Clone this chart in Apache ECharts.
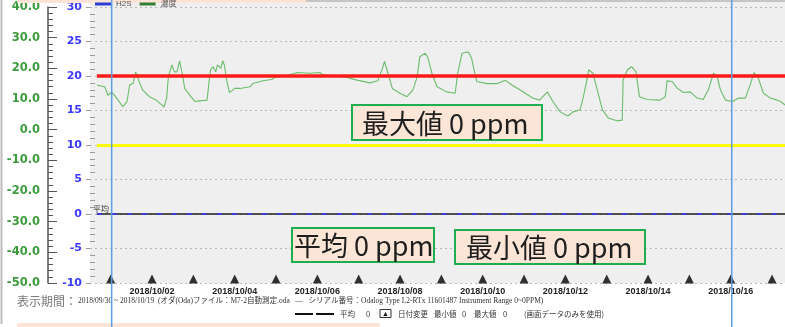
<!DOCTYPE html>
<html><head><meta charset="utf-8">
<script src="https://cdn.jsdelivr.net/npm/echarts@6/dist/echarts.min.js"></script>
<style>html,body{margin:0;padding:0;background:#fff}#c{width:785px;height:327px}</style>
</head><body><div id="c"></div>
<script>
// ---- data ----
const times = [
'2018-09-30 16:00','2018-09-30 20:30','2018-09-30 22:30',
'2018-10-01 00:30','2018-10-01 03:30','2018-10-01 07:00','2018-10-01 09:30','2018-10-01 11:00','2018-10-01 13:00','2018-10-01 14:30','2018-10-01 15:30','2018-10-01 17:00','2018-10-01 18:30','2018-10-01 22:30',
'2018-10-02 02:30','2018-10-02 07:00','2018-10-02 08:30','2018-10-02 09:30','2018-10-02 11:30','2018-10-02 13:00','2018-10-02 14:30','2018-10-02 16:00','2018-10-02 17:30','2018-10-02 19:00','2018-10-02 22:00',
'2018-10-03 01:00','2018-10-03 03:30','2018-10-03 08:00','2018-10-03 09:00','2018-10-03 10:00','2018-10-03 11:30','2018-10-03 13:00','2018-10-03 14:00','2018-10-03 16:00','2018-10-03 17:00','2018-10-03 18:00','2018-10-03 19:30','2018-10-03 21:00',
'2018-10-04 00:00','2018-10-04 03:00','2018-10-04 09:00','2018-10-04 10:30','2018-10-04 16:30','2018-10-04 21:30','2018-10-04 23:30',
'2018-10-05 06:30','2018-10-05 12:30','2018-10-05 19:30',
'2018-10-06 01:30','2018-10-06 03:00','2018-10-06 09:00','2018-10-06 17:00','2018-10-06 23:00',
'2018-10-07 06:30','2018-10-07 11:00','2018-10-07 13:30','2018-10-07 15:00','2018-10-07 17:00','2018-10-07 19:30',
'2018-10-08 00:00','2018-10-08 04:00','2018-10-08 07:30','2018-10-08 10:00','2018-10-08 11:30','2018-10-08 14:30','2018-10-08 16:00','2018-10-08 18:30','2018-10-08 21:30',
'2018-10-09 03:00','2018-10-09 08:00','2018-10-09 09:30','2018-10-09 12:00','2018-10-09 15:30','2018-10-09 17:30','2018-10-09 20:30',
'2018-10-10 02:30','2018-10-10 08:30','2018-10-10 13:00','2018-10-10 17:00','2018-10-10 21:30',
'2018-10-11 05:00','2018-10-11 09:00','2018-10-11 13:30','2018-10-11 17:00','2018-10-11 21:00',
'2018-10-12 01:30','2018-10-12 04:30','2018-10-12 08:30','2018-10-12 10:00','2018-10-12 12:30','2018-10-12 13:30','2018-10-12 16:00','2018-10-12 18:30','2018-10-12 21:30',
'2018-10-13 01:00','2018-10-13 03:30','2018-10-13 06:00','2018-10-13 09:00','2018-10-13 09:30','2018-10-13 12:00','2018-10-13 14:30','2018-10-13 17:00','2018-10-13 19:00','2018-10-13 23:30',
'2018-10-14 07:00','2018-10-14 10:00','2018-10-14 11:00','2018-10-14 14:00','2018-10-14 17:00','2018-10-14 20:30',
'2018-10-15 00:30','2018-10-15 04:30','2018-10-15 08:00','2018-10-15 11:00','2018-10-15 14:00','2018-10-15 16:00','2018-10-15 18:00','2018-10-15 21:00',
'2018-10-16 01:00','2018-10-16 04:30','2018-10-16 08:30','2018-10-16 11:30','2018-10-16 13:30','2018-10-16 16:00','2018-10-16 19:00','2018-10-16 23:00',
'2018-10-17 03:00','2018-10-17 05:00','2018-10-17 07:30'
];
const conc = [
18.7,18.45,17.2,
17.7,16.8,15.55,16.3,18.7,18.9,20.6,20.7,18.9,18.0,17.0,
16.5,15.5,16.8,19.9,21.6,20.6,20.6,22.2,20.4,18.2,17.2,
16.3,16.4,16.5,18.9,20.9,21.35,20.6,21.6,21.1,22.2,21.6,19.2,17.6,
18.2,18.2,18.45,18.9,19.3,19.5,19.8,
20.1,20.5,20.4,
20.5,20.2,20.0,19.8,19.4,
19.0,19.3,20.9,22.1,20.4,18.2,
17.5,17.0,18.0,19.9,22.8,23.3,22.8,20.4,18.45,
17.7,17.5,20.4,23.3,23.5,22.6,19.2,
18.9,18.9,19.4,18.7,18.0,
16.8,16.5,17.7,16.2,14.8,
14.2,14.8,15.1,16.5,19.4,20.9,20.4,18.0,15.1,
13.9,13.7,13.5,13.6,19.4,20.9,21.35,20.6,17.0,16.6,
16.5,17.0,19.3,19.2,18.2,17.6,
17.7,16.8,16.6,18.0,20.4,20.0,18.0,16.5,
16.3,16.8,16.8,18.9,20.5,19.7,17.5,16.8,
16.5,16.3,15.8
];
const h2sTimes = ['2018-09-30 16:00','2018-10-17 07:30'];
const h2sValues = [0, 0];
const markerDays = ['2018-10-01','2018-10-02','2018-10-03','2018-10-04','2018-10-05','2018-10-06','2018-10-07','2018-10-08','2018-10-09','2018-10-10','2018-10-11','2018-10-12','2018-10-13','2018-10-14','2018-10-15','2018-10-16','2018-10-17'];
const dateLabels = ['2018-10-02','2018-10-04','2018-10-06','2018-10-08','2018-10-10','2018-10-12','2018-10-14','2018-10-16'];
const cursorTimes = ['2018-10-01 00:00','2018-10-16 00:00'];
const xRange = ['2018-09-30 12:00','2018-10-17 07:30'];
const blueAxis = {min:-10, max:30, interval:5};
const greenAxis = {min:-50, max:40, interval:10};
const upperLimit = 20, lowerLimit = 10, averageVal = 0;
const seriesNames = ['H2S','濃度'];

function ts(s){
  const [d,t='00:00'] = s.split(' ');
  const [y,m,dd] = d.split('-').map(Number);
  const [h,mi] = t.split(':').map(Number);
  return new Date(y,m-1,dd,h,mi).getTime();
}
function fmtDate(v){
  const d = new Date(v);
  const p = n => String(n).padStart(2,'0');
  return d.getFullYear()+'/'+p(d.getMonth()+1)+'/'+p(d.getDate());
}

const chart = echarts.init(document.getElementById('c'), null, {renderer:'canvas'});
const t0 = ts(times[0]), tMax = ts(xRange[1]);

chart.setOption({
  animation:false,
  backgroundColor:'#ffffff',
  grid:{left:90, right:0, top:7, bottom:44, show:true, backgroundColor:'#efefef', borderWidth:0},
  legend:{
    left:95, top:0, padding:0, itemGap:8, itemWidth:16, itemHeight:3, icon:'rect',
    textStyle:{fontSize:8, color:'#555', fontFamily:'Liberation Sans, Noto Sans CJK JP'},
    data:[{name:seriesNames[0], itemStyle:{color:'#2b3bd8'}},{name:seriesNames[1], itemStyle:{color:'#2f7f32'}}]
  },
  xAxis:{
    type:'value', min:ts(xRange[0]), max:tMax, scale:true,
    axisLine:{show:false}, axisTick:{show:false}, splitLine:{show:false},
    axisLabel:{
      customValues: dateLabels.map(ts),
      formatter: v => fmtDate(v),
      fontSize:9, fontWeight:'bold', color:'#222', margin:4,
      fontFamily:'Liberation Sans', hideOverlap:false
    }
  },
  yAxis:[
    { // blue scale (main)
      type:'value', position:'left', offset:0,
      min:blueAxis.min, max:blueAxis.max, interval:blueAxis.interval,
      axisLine:{show:false},
      axisTick:{show:true, length:4, lineStyle:{color:'#999'}},
      axisLabel:{color:'#3a3aff', fontWeight:'bold', fontSize:11, margin:8, fontFamily:'DejaVu Sans'},
      splitLine:{show:true, lineStyle:{type:[2,3], color:'#b8b8b8', width:1}}
    },
    { // green scale
      type:'value', position:'left', offset:42,
      min:greenAxis.min, max:greenAxis.max, interval:greenAxis.interval,
      axisLine:{show:true, lineStyle:{color:'#555', width:1.5}},
      axisTick:{show:true, inside:true, length:9, lineStyle:{color:'#555'}},
      minorTick:{show:true, splitNumber:5, length:5, lineStyle:{color:'#555'}},
      axisLabel:{color:'#3c9b3c', fontWeight:'bold', fontSize:11.5, margin:8, fontFamily:'DejaVu Sans',
                 formatter: v => v.toFixed(1)},
      splitLine:{show:false}
    },
    { // minor tick ruler next to plot
      type:'value', position:'left', offset:0,
      min:blueAxis.min, max:blueAxis.max, interval:blueAxis.interval,
      axisLine:{show:false},
      axisTick:{show:false, inside:true},
      minorTick:{show:true, splitNumber:5, length:5, lineStyle:{color:'#9a9a9a'}},
      axisLabel:{show:false}, splitLine:{show:false}
    }
  ],
  series:[
    {
      name:seriesNames[0], type:'line', yAxisIndex:0, showSymbol:false, symbol:'none',
      data: h2sTimes.map((t,i)=>[ts(t), h2sValues[i]]),
      lineStyle:{color:'#1f1f1f', width:1.5},
      z:3,
      markLine:{
        silent:true, symbol:'none', animation:false,
        data:[
          [{coord:[t0,upperLimit], lineStyle:{color:'#ff1a1a', width:3.5, type:'solid'}, label:{show:false}},{coord:[tMax,upperLimit]}],
          [{coord:[t0,lowerLimit], lineStyle:{color:'#ffff00', width:3, type:'solid'}, label:{show:false}},{coord:[tMax,lowerLimit]}],
          [{coord:[t0,averageVal], lineStyle:{color:'#3535ff', width:1.5, type:[5,10]},
            label:{show:true, formatter:'平均', position:'insideStartTop', distance:[-4,1], fontSize:8, color:'#333', fontFamily:'Noto Sans CJK JP'}},{coord:[tMax,averageVal]}]
        ]
      }
    },
    {
      name:seriesNames[1], type:'line', yAxisIndex:0, showSymbol:false, symbol:'none',
      data: times.map((t,i)=>[ts(t), conc[i]]),
      lineStyle:{color:'#6bbd6b', width:1.1}, z:4
    },
    {
      name:'marker', type:'scatter', yAxisIndex:0, clip:false,
      symbol:'triangle', symbolSize:[9,9], symbolOffset:[0,-4],
      itemStyle:{color:'#000'},
      data: markerDays.map(d=>[ts(d), blueAxis.min]), z:5
    }
  ]
});

// ---- decorations ----
const g = [];
g.push({type:'rect', shape:{x:90,y:2,width:695,height:5}, style:{fill:'#efefef'}, z:-1, silent:true});
g.push({type:'rect', shape:{x:17,y:0,width:289,height:3}, style:{fill:'#fbe3d5'}, z:1, silent:true});
g.push({type:'line', shape:{x1:306,y1:1,x2:785,y2:1}, style:{stroke:'#8a8a8a', lineWidth:1}, z:1, silent:true});
g.push({type:'rect', shape:{x:17,y:323,width:363,height:4}, style:{fill:'#fbe3d5'}, z:1, silent:true});
g.push({type:'line', shape:{x1:1.5,y1:0,x2:1.5,y2:324}, style:{stroke:'#bdbdbd', lineWidth:2}, z:1, silent:true});
cursorTimes.forEach(t=>{
  const x = chart.convertToPixel({xAxisIndex:0}, ts(t));
  g.push({type:'line', shape:{x1:x+1,y1:0,x2:x+1,y2:327}, style:{stroke:'#5e9ee0', lineWidth:1.5}, z:60, silent:true});
});
function box(x,y,w,h,txt,tx){
  g.push({type:'rect', shape:{x:x,y:y,width:w,height:h}, style:{fill:'#fbe5d6', stroke:'#1fae4f', lineWidth:2}, z:70, silent:true});
  g.push({type:'text', style:{text:txt, x:tx, y:y+h/2+1, fontSize:27, fontFamily:'Noto Sans CJK JP', fill:'#1e1e1e', textVerticalAlign:'middle'}, z:71, silent:true});
}
box(352,105,190,35,'最大値 0 ppm',362);
box(292,228,142,34,'平均 0 ppm',294);
box(455,230,190,34,'最小値 0 ppm',466);
// footer
g.push({type:'text', style:{text:'表示期間：', x:17, y:301, fontSize:12, fontFamily:'Noto Sans CJK JP', fill:'#7a7a7a', textVerticalAlign:'middle'}, z:10, silent:true});
g.push({type:'text', style:{text:'2018/09/30 ~ 2018/10/19  (オダ(Oda)ファイル：M7-2自動測定.oda   ―   シリアル番号：Odalog Type L2-RTx 11601487 Instrument Range 0~0PPM)', x:78, y:301, fontSize:7.5, fontFamily:'Liberation Serif, Noto Sans CJK JP', fill:'#333', textVerticalAlign:'middle'}, z:10, silent:true});
g.push({type:'line', shape:{x1:295,y1:314,x2:313,y2:314}, style:{stroke:'#111', lineWidth:2}, z:10, silent:true});
g.push({type:'line', shape:{x1:316,y1:314,x2:334,y2:314}, style:{stroke:'#111', lineWidth:2}, z:10, silent:true});
const foot = [['平均',340],['0',366],['日付変更',398],['最小値',434],['0',462],['最大値',474],['0',503],['(画面データのみを使用)',524]];
foot.forEach(([t,x])=>g.push({type:'text', style:{text:t, x:x, y:314, fontSize:7.5, fontFamily:'Noto Sans CJK JP', fill:'#333', textVerticalAlign:'middle'}, z:10, silent:true}));
g.push({type:'rect', shape:{x:380,y:309.5,width:11,height:8}, style:{fill:'#fff', stroke:'#333', lineWidth:1}, z:10, silent:true});
g.push({type:'text', style:{text:'▲', x:385.5, y:314, fontSize:7, fill:'#111', textAlign:'center', textVerticalAlign:'middle'}, z:11, silent:true});
chart.setOption({graphic:g});
</script>
</body></html>
